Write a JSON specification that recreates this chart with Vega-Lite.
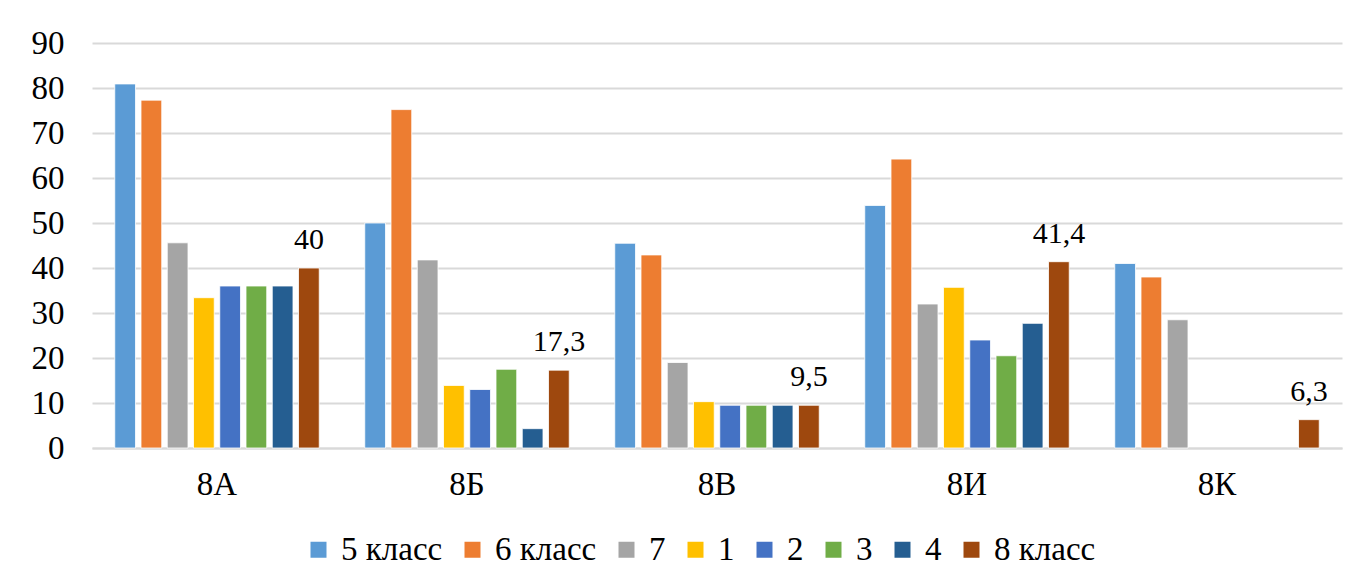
{
  "$schema": "https://vega.github.io/schema/vega-lite/v6.json",
  "width": 1250,
  "height": 405,
  "autosize": {"type": "none"},
  "padding": {"left": 92, "top": 43, "right": 21, "bottom": 135},
  "background": "white",
  "data": {
    "values": [
      {"group": "8А", "series": "5 класс", "value": 80.9},
      {"group": "8А", "series": "6 класс", "value": 77.3},
      {"group": "8А", "series": "7", "value": 45.6},
      {"group": "8А", "series": "1", "value": 33.4},
      {"group": "8А", "series": "2", "value": 36},
      {"group": "8А", "series": "3", "value": 36},
      {"group": "8А", "series": "4", "value": 36},
      {"group": "8А", "series": "8 класс", "value": 40},
      {"group": "8Б", "series": "5 класс", "value": 50},
      {"group": "8Б", "series": "6 класс", "value": 75.2},
      {"group": "8Б", "series": "7", "value": 41.8},
      {"group": "8Б", "series": "1", "value": 13.9},
      {"group": "8Б", "series": "2", "value": 13},
      {"group": "8Б", "series": "3", "value": 17.5},
      {"group": "8Б", "series": "4", "value": 4.3},
      {"group": "8Б", "series": "8 класс", "value": 17.3},
      {"group": "8В", "series": "5 класс", "value": 45.5},
      {"group": "8В", "series": "6 класс", "value": 42.9},
      {"group": "8В", "series": "7", "value": 19},
      {"group": "8В", "series": "1", "value": 10.3},
      {"group": "8В", "series": "2", "value": 9.5},
      {"group": "8В", "series": "3", "value": 9.5},
      {"group": "8В", "series": "4", "value": 9.5},
      {"group": "8В", "series": "8 класс", "value": 9.5},
      {"group": "8И", "series": "5 класс", "value": 53.9},
      {"group": "8И", "series": "6 класс", "value": 64.2},
      {"group": "8И", "series": "7", "value": 32},
      {"group": "8И", "series": "1", "value": 35.7},
      {"group": "8И", "series": "2", "value": 24},
      {"group": "8И", "series": "3", "value": 20.5},
      {"group": "8И", "series": "4", "value": 27.7},
      {"group": "8И", "series": "8 класс", "value": 41.4},
      {"group": "8К", "series": "5 класс", "value": 41},
      {"group": "8К", "series": "6 класс", "value": 38},
      {"group": "8К", "series": "7", "value": 28.5},
      {"group": "8К", "series": "8 класс", "value": 6.3}
    ]
  },
  "encoding": {
    "x": {
      "field": "group",
      "type": "nominal",
      "sort": ["8А", "8Б", "8В", "8И", "8К"],
      "scale": {"paddingInner": 0.16, "paddingOuter": 0.08},
      "axis": {
        "title": null,
        "labelAngle": 0,
        "labelFont": "Liberation Serif",
        "labelFontSize": 33,
        "labelColor": "#000000",
        "labelPadding": 20,
        "ticks": false,
        "domain": true,
        "domainColor": "#d9d9d9",
        "domainWidth": 2,
        "grid": false
      }
    },
    "xOffset": {
      "field": "series",
      "type": "nominal",
      "sort": ["5 класс", "6 класс", "7", "1", "2", "3", "4", "8 класс"],
      "scale": {
        "domain": ["5 класс", "6 класс", "7", "1", "2", "3", "4", "8 класс"],
        "paddingInner": 0.21,
        "paddingOuter": 0.105
      }
    },
    "y": {
      "field": "value",
      "type": "quantitative",
      "scale": {"domain": [0, 90], "nice": false},
      "axis": {
        "title": null,
        "values": [0, 10, 20, 30, 40, 50, 60, 70, 80, 90],
        "labelFont": "Liberation Serif",
        "labelFontSize": 33,
        "labelColor": "#000000",
        "labelPadding": 28,
        "ticks": false,
        "domain": false,
        "grid": true,
        "gridColor": "#d9d9d9",
        "gridWidth": 2
      }
    }
  },
  "layer": [
    {
      "mark": {"type": "bar", "stroke": "white", "strokeWidth": 0.8},
      "encoding": {
        "color": {
          "field": "series",
          "type": "nominal",
          "scale": {
            "domain": ["5 класс", "6 класс", "7", "1", "2", "3", "4", "8 класс"],
            "range": ["#5B9BD5", "#ED7D31", "#A5A5A5", "#FFC000", "#4472C4", "#70AD47", "#255E91", "#9E480E"]
          },
          "legend": {
            "title": null,
            "orient": "none",
            "direction": "horizontal",
            "columns": 8,
            "legendX": 210,
            "legendY": 490,
            "padding": 0,
            "symbolType": "square",
            "symbolSize": 256,
            "symbolStrokeWidth": 0,
            "labelFont": "Liberation Serif",
            "labelFontSize": 33,
            "labelColor": "#000000",
            "labelOffset": 6,
            "columnPadding": 13,
            "labelLimit": 300
          }
        }
      }
    },
    {
      "transform": [{"filter": "datum.series === '8 класс'"}],
      "mark": {
        "type": "text",
        "font": "Liberation Serif",
        "fontSize": 30,
        "color": "#000000",
        "baseline": "alphabetic",
        "dy": -19
      },
      "encoding": {
        "text": {"field": "value", "type": "quantitative", "format": ".3~r"}
      }
    }
  ],
  "config": {
    "view": {"stroke": null},
    "locale": {
      "number": {"decimal": ",", "thousands": " ", "grouping": [3], "currency": ["", ""]}
    }
  }
}
